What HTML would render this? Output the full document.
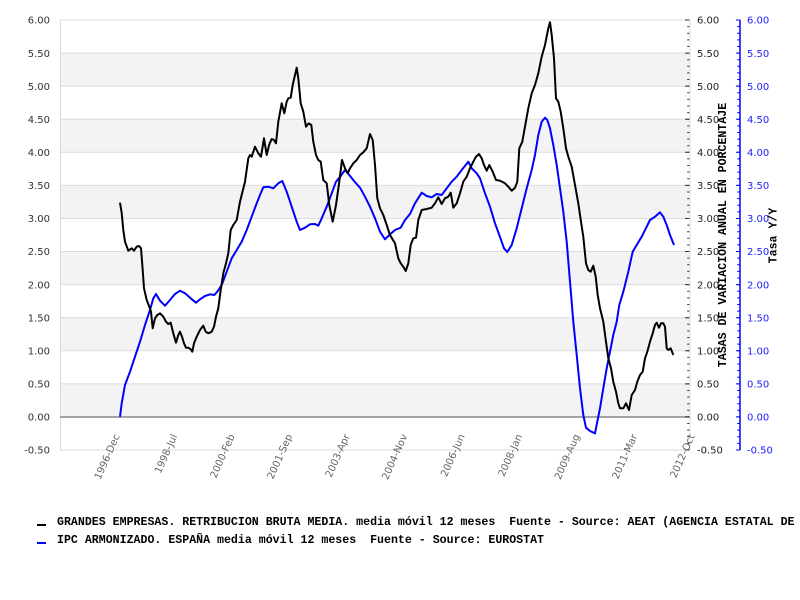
<!DOCTYPE html>
<html><head><meta charset="utf-8"><style>
html,body{margin:0;padding:0;background:#fff;}
svg{display:block;}
.leg text{white-space:pre;}
</style></head><body>
<svg width="800" height="600" viewBox="0 0 800 600" xmlns="http://www.w3.org/2000/svg">
<rect x="0" y="0" width="800" height="600" fill="#fff"/>
<!-- bands -->
<g fill="#f3f3f3">
<rect x="60" y="53.08" width="630" height="33.08"/>
<rect x="60" y="119.23" width="630" height="33.08"/>
<rect x="60" y="185.38" width="630" height="33.08"/>
<rect x="60" y="251.54" width="630" height="33.08"/>
<rect x="60" y="317.69" width="630" height="33.08"/>
<rect x="60" y="383.85" width="630" height="33.08"/>
</g>
<g stroke="#dcdcdc" stroke-width="1">
<line x1="60" y1="20" x2="690" y2="20"/>
<line x1="60" y1="53.08" x2="690" y2="53.08"/>
<line x1="60" y1="86.15" x2="690" y2="86.15"/>
<line x1="60" y1="119.23" x2="690" y2="119.23"/>
<line x1="60" y1="152.31" x2="690" y2="152.31"/>
<line x1="60" y1="185.38" x2="690" y2="185.38"/>
<line x1="60" y1="218.46" x2="690" y2="218.46"/>
<line x1="60" y1="251.54" x2="690" y2="251.54"/>
<line x1="60" y1="284.62" x2="690" y2="284.62"/>
<line x1="60" y1="317.69" x2="690" y2="317.69"/>
<line x1="60" y1="350.77" x2="690" y2="350.77"/>
<line x1="60" y1="383.85" x2="690" y2="383.85"/>
<line x1="60" y1="450" x2="690" y2="450"/>
<line x1="60.5" y1="20" x2="60.5" y2="450"/>
<line x1="690" y1="20" x2="690" y2="450"/>
</g>
<line x1="60" y1="417" x2="690" y2="417" stroke="#888" stroke-width="1.5"/>
<!-- right black ticks -->
<line x1="688.3" y1="19.5" x2="688.3" y2="451" stroke="#333" stroke-width="2.2" stroke-dasharray="1 5.6154"/>
<line x1="687.2" y1="19.5" x2="687.2" y2="451" stroke="#333" stroke-width="4.4" stroke-dasharray="1 32.077"/>
<!-- blue axis -->
<line x1="740" y1="20" x2="740" y2="450" stroke="#0000ff" stroke-width="1.5"/>
<line x1="738.6" y1="19.5" x2="738.6" y2="451" stroke="#0000ff" stroke-width="2.8" stroke-dasharray="1 5.6154"/>
<line x1="738" y1="19.5" x2="738" y2="451" stroke="#0000ff" stroke-width="4.2" stroke-dasharray="1 32.077"/>
<!-- left labels -->
<g font-family="DejaVu Sans, sans-serif" font-size="10" fill="#333" text-anchor="end">
<text x="50" y="23.7">6.00</text>
<text x="50" y="56.8">5.50</text>
<text x="50" y="89.9">5.00</text>
<text x="50" y="122.9">4.50</text>
<text x="50" y="156">4.00</text>
<text x="50" y="189.1">3.50</text>
<text x="50" y="222.2">3.00</text>
<text x="50" y="255.2">2.50</text>
<text x="50" y="288.3">2.00</text>
<text x="50" y="321.4">1.50</text>
<text x="50" y="354.5">1.00</text>
<text x="50" y="387.5">0.50</text>
<text x="50" y="420.6">0.00</text>
<text x="50" y="453.7">-0.50</text>
</g>
<g font-family="DejaVu Sans, sans-serif" font-size="10" fill="#222">
<text x="697" y="23.7">6.00</text>
<text x="697" y="56.8">5.50</text>
<text x="697" y="89.9">5.00</text>
<text x="697" y="122.9">4.50</text>
<text x="697" y="156">4.00</text>
<text x="697" y="189.1">3.50</text>
<text x="697" y="222.2">3.00</text>
<text x="697" y="255.2">2.50</text>
<text x="697" y="288.3">2.00</text>
<text x="697" y="321.4">1.50</text>
<text x="697" y="354.5">1.00</text>
<text x="697" y="387.5">0.50</text>
<text x="697" y="420.6">0.00</text>
<text x="697" y="453.7">-0.50</text>
</g>
<g font-family="DejaVu Sans, sans-serif" font-size="10" fill="#2020ff">
<text x="747" y="23.7">6.00</text>
<text x="747" y="56.8">5.50</text>
<text x="747" y="89.9">5.00</text>
<text x="747" y="122.9">4.50</text>
<text x="747" y="156">4.00</text>
<text x="747" y="189.1">3.50</text>
<text x="747" y="222.2">3.00</text>
<text x="747" y="255.2">2.50</text>
<text x="747" y="288.3">2.00</text>
<text x="747" y="321.4">1.50</text>
<text x="747" y="354.5">1.00</text>
<text x="747" y="387.5">0.50</text>
<text x="747" y="420.6">0.00</text>
<text x="747" y="453.7">-0.50</text>
</g>
<!-- axis titles -->
<text transform="translate(726,235) rotate(-90)" text-anchor="middle" font-family="Liberation Mono, monospace" font-weight="bold" font-size="11.6" fill="#000">TASAS DE VARIACION ANUAL EN PORCENTAJE</text>
<text transform="translate(776.5,235.5) rotate(-90)" text-anchor="middle" font-family="Liberation Mono, monospace" font-weight="bold" font-size="11.6" fill="#000">Tasa Y/Y</text>
<!-- x labels -->
<g font-family="DejaVu Sans, sans-serif" font-size="10" fill="#666" text-anchor="end">
<text transform="translate(120,436) rotate(-66)">1996-Dec</text>
<text transform="translate(177.5,436) rotate(-66)">1998-Jul</text>
<text transform="translate(235,436) rotate(-66)">2000-Feb</text>
<text transform="translate(292.5,436) rotate(-66)">2001-Sep</text>
<text transform="translate(350,436) rotate(-66)">2003-Apr</text>
<text transform="translate(407.5,436) rotate(-66)">2004-Nov</text>
<text transform="translate(465,436) rotate(-66)">2006-Jun</text>
<text transform="translate(522.5,436) rotate(-66)">2008-Jan</text>
<text transform="translate(580,436) rotate(-66)">2009-Aug</text>
<text transform="translate(637.5,436) rotate(-66)">2011-Mar</text>
<text transform="translate(695,436) rotate(-66)">2012-Oct</text>
</g>
<!-- series -->
<polyline fill="none" stroke="#0000ff" stroke-width="2" stroke-linejoin="round" points="120,416.7 121.7,403.3 125,385 130,371.7 135,356.7 140,341.7 145,325 150,310 153.3,298.3 156,294 160,300.7 165,305.7 170,300 175,294 180,290.7 185,293.3 190.7,298.3 196,302.7 200,299.3 205,296 210,294.3 214.3,295 217.3,291.7 221.7,285 226.7,271.7 231.7,258.3 236.7,250 241.7,241.7 246.7,230 251.7,216.7 256.7,203.3 260,195 263.3,187.3 268.3,186.7 273.3,188.3 278.3,183.3 282.3,181 286.7,191.7 291.7,206.7 296.7,221.7 300,230 305,227.7 310,224.3 315,224 318.3,225.7 321.7,218.3 326.7,206.7 331.7,193.3 336,181.7 340.7,176 345,170 349.3,175 354,181 360,187.7 365,196.7 370,206.7 375,218.3 380,231.7 385,239.3 389.3,235 395,230 400.7,227.7 405,220 410,214 415,203.3 421.7,192.7 426.7,196 431.7,197.3 436.7,194 441.7,195 446.7,188.3 451.7,181.7 456.7,176.7 461.7,170 468.3,161.7 471.7,168.3 476.7,173.3 480,178.3 485,193.3 490,206.7 495,223.3 500,237 504,248.3 507.3,252 511.7,245 516.7,228.3 521.7,208.3 526.7,188.3 531.7,170 535,155 538.3,135 541.7,121.7 545,117.7 547.3,120 550,128.3 553.3,145 556.7,165 560,188.3 563.3,211.7 566.7,241.7 570,281.7 573.3,321.7 576.7,355 580,388.3 583.3,415 586,427.7 590,431 595,433.3 597.3,421.7 600,408.3 603.3,388.3 606.7,368.3 610,351.7 613.3,335 616.7,321.7 619.3,305 623.3,291.7 628.3,271.7 632.7,251.7 636.7,245 641.7,236.7 646.7,226.7 650,220 655,216.7 660,212.3 663.3,216.7 666.7,225 670,235 674,245"/>
<polyline fill="none" stroke="#000" stroke-width="2" stroke-linejoin="round" points="120,202.7 121.7,213 123.3,230 125,241.7 128.3,250.7 131.7,248.3 134,250.7 136.7,246.7 139,246 141,248.3 142.7,270 144,288.3 146.7,300 149.3,306.7 151,311.7 152.7,328.3 155,318.3 157.3,315 160,313.3 163.3,316.7 166,321.7 168.3,324 170.7,322.7 173.3,333.3 176,342.7 178.3,335 180,331.7 182,336.7 184,343.3 186,347.7 188.3,347.7 190.7,349.3 192.3,351.7 194,343.3 196.7,336.7 200,330 203.3,325.7 205.7,331.7 208.3,333.3 211.7,331.7 214,326.7 216,316.7 218.3,308.3 220.7,290 223.3,273.3 226,263.3 228.3,253.3 230.7,230 233.3,225 236.7,220 240,201.7 245,181.7 248.3,158.3 250,155 251.7,156.7 255,146.7 258.3,153.3 261,156.7 264,138.3 266.7,155 269.3,144.3 271.7,139 274,140 276,143.3 278.3,121.7 281.7,103.3 284.3,113.3 286.7,101.7 288.3,98.3 290.7,97.7 292.7,85 295,75 296.7,67.7 298.3,78.3 300.7,103.3 303.3,111.7 306,126.7 308.7,123.3 311.3,125 313.3,141.7 316,155 318.3,160 320.7,161.7 323.3,180 326.7,183.3 329.3,205 332.7,221.7 336,205 339.3,181.7 342,160 345,168.3 347.7,173.3 350,168.3 353.3,163.3 356.7,160 360,155 363.3,152.3 366.7,148.3 370,134 372.7,140 375,165 377.3,198.3 380,208.3 383.3,215 386.7,225 390,235 395,243.3 398.3,258.3 400.7,263.3 403.3,266.7 405.7,271 408.3,263.3 410.7,245 413.3,238.3 416,237.7 418.3,220 421.7,210 426.7,209 431.7,207.7 435,203.3 438.3,197.3 441.7,204 445,198.3 448.3,196.7 450.7,192.7 453.3,207.7 456.7,203.3 460,193.3 463.3,181.7 466.7,176.7 470,168.3 473.3,161.7 476,156.7 479,154 481.7,158.3 484,165 486.7,170.7 489.3,165 492.7,171.7 496,180 500,180.7 505,183.3 508.3,186.7 511.7,190.7 515,187.7 517.3,181.7 519.3,148.3 522.3,141.7 525,126.7 528.3,108.3 531.7,93.3 535,85 538.3,73.3 541.7,56.7 545,45 548.3,28.3 550,22.3 551.7,35 554,58.3 556,98.3 558.3,101.7 560.7,111.7 563.3,128.3 566,148.3 568.3,156.7 571.7,166.7 575,185 578.3,203.3 581,221.7 583.3,236.7 586,263.3 588.3,270 590.7,271.7 593.3,265.7 595.7,276.7 597.7,295 600,308.3 603.3,321.7 606,341.7 608.3,358.3 611,368.3 613.3,381.7 616,391.7 618.3,403.3 620,408.3 623.3,408.3 626,403.3 629,410 631.7,395 635,390 637.3,381.7 640,375 642.7,371.7 645,358.3 647.3,351.7 650,341.7 652.7,333.3 655,325 656.7,322.7 659,327.7 661,323.3 663.3,323.3 665,326.7 666.7,348.3 668.3,350 670.7,348.3 673.3,355"/>
<!-- legend -->
<rect x="37" y="524" width="9" height="2" fill="#000"/>
<rect x="37" y="542" width="9" height="2" fill="#0000ff"/>
<g class="leg" font-family="Liberation Mono, monospace" font-weight="bold" font-size="11.6" fill="#000">
<text x="57" y="525">GRANDES EMPRESAS. RETRIBUCION BRUTA MEDIA. media móvil 12 meses &#160;Fuente - Source: AEAT (AGENCIA ESTATAL DE ADMINISTRACION TRIBUTARIA)</text>
<text x="57" y="543">IPC ARMONIZADO. ESPAÑA media móvil 12 meses &#160;Fuente - Source: EUROSTAT</text>
</g>
</svg>
</body></html>
